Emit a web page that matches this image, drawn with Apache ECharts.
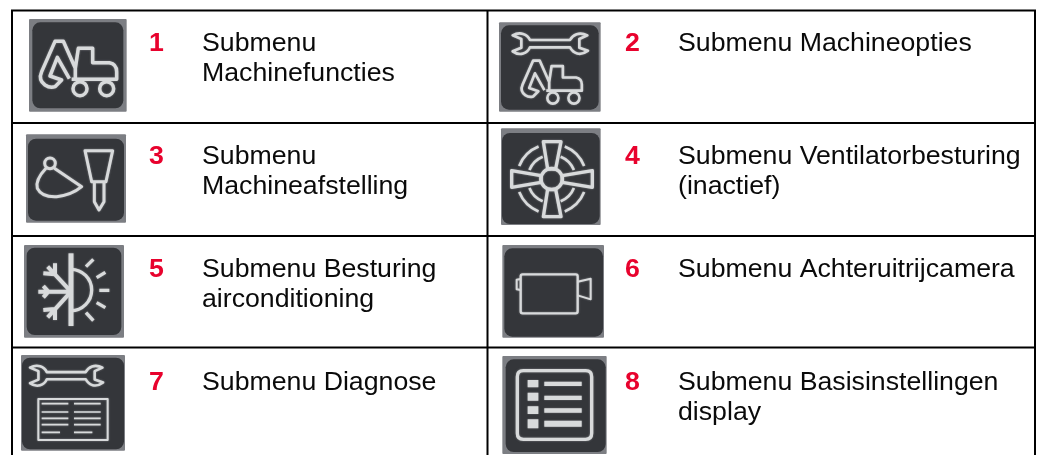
<!DOCTYPE html>
<html><head><meta charset="utf-8">
<style>html,body{margin:0;padding:0;background:#fff}#c{width:1040px;height:455px}</style>
<script src="https://cdn.jsdelivr.net/npm/echarts@6/dist/echarts.min.js"></script>
</head><body><div id="c"></div>
<script>
var numbers = ['1','2','3','4','5','6','7','8'];
var titles = [
  ['Submenu','Machinefuncties'],
  ['Submenu Machineopties'],
  ['Submenu','Machineafstelling'],
  ['Submenu Ventilatorbesturing','(inactief)'],
  ['Submenu Besturing','airconditioning'],
  ['Submenu Achteruitrijcamera'],
  ['Submenu Diagnose'],
  ['Submenu Basisinstellingen','display']
];
var rowTextY = [44,157,270,383];
var lineHeight = 30;
var numberX = [149,625];
var textX = [202,678];
var rowLines = [123,236,347.5];
var colLines = [12,487.5,1035];
var topLine = 10.5;

var FG = '#d8dadb', BG = '#34363a', EDGE = '#7c7e83';

var EXC = 'M226,233 L226,205 L190,124 L165,124 L125,215 Q114,240 135,255 Q150,265 165,260 L185,240 L150,228 L172,172 L208,236 M226,205 L235,145 L278,145 L278,188 L328,188 Q350,192 350,215 L350,238 L215,238 ' +
  'M261,266 A21,21 0 1 1 219,266 A21,21 0 1 1 261,266 M341,266 A21,21 0 1 1 299,266 A21,21 0 1 1 341,266';
var WRENCH = 'M150,120 L270,120 C278,104 298,94 322,106 L298,117 L298,143 L324,152 C300,170 280,160 270,142 L150,142 C142,160 120,170 98,154 L124,143 L124,117 L98,106 C120,94 142,102 150,120 Z';

var shapeCount = 0;
function pathType(d){
  var name = 'iconPath' + (shapeCount++);
  echarts.graphic.registerShape(name, echarts.graphic.extendPath(d, {}));
  return name;
}
function line(d,w){return {type:pathType(d),style:{fill:null,stroke:FG,lineWidth:w||10,lineJoin:'round',shadowBlur:2,shadowColor:'rgba(216,218,219,0.5)'}};}
function solid(d){return {type:pathType(d),style:{fill:FG,shadowBlur:1.5,shadowColor:'rgba(216,218,219,0.5)'}};}
function sub(x,y,s,children){return {type:'group',x:x,y:y,scaleX:s,scaleY:s,children:children};}

function arcs(cx,cy,r){
  var d='',a=[[22,68],[112,158],[202,248],[292,338]];
  a.forEach(function(p){
    var x1=cx+r*Math.cos(p[0]*Math.PI/180),y1=cy+r*Math.sin(p[0]*Math.PI/180);
    var x2=cx+r*Math.cos(p[1]*Math.PI/180),y2=cy+r*Math.sin(p[1]*Math.PI/180);
    d+='M'+x1+','+y1+' A'+r+','+r+' 0 0 1 '+x2+','+y2+' ';
  });
  return d;
}

var icons = [
 {o:[0,0],box:[87,57,380,335],ins:[10,10,10,10],draw:[line(EXC,10.5)]},
 {o:[480,0],box:[57,67,362,335],ins:[6,9,6,6],draw:[line(WRENCH,8),sub(29,84,0.79,[line(EXC,10)])]},
 {o:[0,0],box:[78,403,378,668],ins:[6,13,6,6],draw:[line('M166,490 A16,16 0 1 1 134,490 A16,16 0 1 1 166,490 M138,505 Q105,540 112,565 Q125,592 170,590 Q215,585 245,560 L163,505',9),line('M255,452 L338,452 L318,545 L275,545 Z M283,545 L283,605 L297,630 L312,605 L312,545',9)]},
 {o:[480,0],box:[63,385,362,675],ins:[3,14,3,3],draw:[line('M247,537 A32,32 0 1 1 183,537 A32,32 0 1 1 247,537',10),line('M190,425 L243,425 L227,507 L203,507 Z M190,650 L243,650 L227,568 L203,568 Z M95,512 L95,562 L183,547 L183,527 Z M337,512 L337,562 L247,547 L247,527 Z',10),line(arcs(215,537,105),8),line(arcs(215,537,72),8)]},
 {o:[0,230],box:[72,45,372,323],ins:[8,8,8,8],draw:[line('M213,70 L213,288',15),line('M213,118 A62,62 0 0 1 213,242',10),line('M258,110 L280,88 M290,143 L316,127 M298,181 L328,181 M290,218 L316,233 M258,248 L280,272',10),line('M213,185 L115,185 M213,185 L143,110 M213,185 L143,262 M130,168 L145,185 L130,202 M165,100 L165,133 L130,130 M165,270 L165,237 L130,240',12)]},
 {o:[480,230],box:[67,45,372,323],ins:[6,10,3,3],draw:[line('M128,133 L287,133 Q293,133 293,139 L293,244 Q293,250 287,250 L128,250 Q122,250 122,244 L122,139 Q122,133 128,133 Z',7),line('M122,147 L110,149 L110,178 L122,180 M293,155 L332,146 L332,208 L293,196',6)]},
 {o:[0,230],box:[63,375,375,662],ins:[3,8,3,4],draw:[sub(-5,310,0.97,[line(WRENCH,8)]),line('M115,507 L323,507 L323,630 L115,630 Z',6),line('M125,521 L205,521 M222,521 L302,521 M125,546 L205,546 M222,546 L302,546 M125,565 L205,565 M222,565 L302,565 M125,584 L205,584 M222,584 L302,584 M125,607 L180,607 M222,607 L277,607',5)]},
 {o:[480,230],box:[67,378,380,672],ins:[10,10,3,6],draw:[line('M130,422 L317,422 Q335,422 335,440 L335,610 Q335,628 317,628 L130,628 Q112,628 112,610 L112,440 Q112,422 130,422 Z',10),solid('M143,450 H175 V472 H143 Z M143,488 H175 V512 H143 Z M143,529 H175 V552 H143 Z M143,568 H175 V595 H143 Z M193,455 H305 V468 H193 Z M193,497 H305 V510 H193 Z M193,535 H305 V548 H193 Z M193,572 H305 V590 H193 Z')]}
];

var elements = [];
function rule(x1,y1,x2,y2){return {type:'line',shape:{x1:x1,y1:y1,x2:x2,y2:y2},style:{stroke:'#000',lineWidth:2}};}
elements.push(rule(colLines[0]-1,topLine,colLines[2]+1,topLine));
rowLines.forEach(function(y){elements.push(rule(colLines[0],y,colLines[2],y));});
colLines.forEach(function(x){elements.push(rule(x,topLine,x,455));});

icons.forEach(function(ic){
  var b=ic.box,i=ic.ins,w=b[2]-b[0],h=b[3]-b[1];
  elements.push({type:'group',x:ic.o[0],y:ic.o[1],scaleX:1/3,scaleY:1/3,children:[
    {type:'rect',shape:{x:b[0],y:b[1],width:w,height:h,r:3},style:{fill:EDGE}},
    {type:'rect',shape:{x:b[0]+i[0],y:b[1]+i[1],width:w-i[0]-i[2],height:h-i[1]-i[3],r:24},style:{fill:BG}}
  ].concat(ic.draw)});
});

numbers.forEach(function(n,k){
  var col=k%2,row=(k-col)/2,y=rowTextY[row];
  elements.push({type:'text',style:{text:n,x:numberX[col],y:y,font:'bold 26.7px "Liberation Sans"',fill:'#e8022d',textVerticalAlign:'middle'}});
  titles[k].forEach(function(t,j){
    elements.push({type:'text',style:{text:t,x:textX[col],y:y+j*lineHeight,font:'26.7px "Liberation Sans"',fill:'#0a0a0a',textVerticalAlign:'middle'}});
  });
});

var chart = echarts.init(document.getElementById('c'),null,{renderer:'canvas'});
chart.setOption({backgroundColor:'#fff',animation:false,graphic:{elements:elements}});
</script></body></html>
